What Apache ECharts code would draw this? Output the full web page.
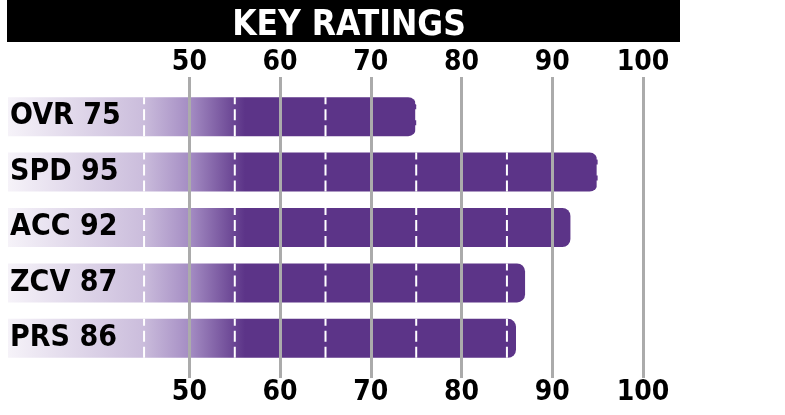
<!DOCTYPE html>
<html>
<head>
<meta charset="utf-8">
<script src="https://cdn.jsdelivr.net/npm/echarts@6/dist/echarts.min.js"></script>
<style>
  html, body { margin: 0; padding: 0; background: #fff; }
  #main { width: 785px; height: 415px; }
</style>
</head>
<body>
<div id="main"></div>
<script>
// key ratings data
var categories = ['OVR', 'SPD', 'ACC', 'ZCV', 'PRS'];
var ratings = [75, 95, 92, 87, 86];
var tickLabels = [50, 60, 70, 80, 90, 100];
var minorTicks = [45, 55, 65, 75, 85, 95];

var FONT = "'Liberation Sans Narrow', 'DejaVu Sans Condensed', sans-serif";
var PURPLE = '#5c3488';

// dashes only inside each bar
var dashData = [];
for (var i = 0; i < categories.length; i++) {
	dashData.push([ratings[i], i]);
}

function renderDashes(params, api) {
	var val = api.value(0);
	var idx = api.value(1);
	var children = [];
	for (var k = 0; k < minorTicks.length; k++) {
		if (minorTicks[k] > val) continue;
		var p = api.coord([minorTicks[k], idx]);
		children.push({
			type: 'line',
			shape: { x1: p[0], y1: p[1] - 19.5, x2: p[0], y2: p[1] + 19.5 },
			style: { stroke: '#fff', lineWidth: 2, lineDash: [11, 5], lineDashOffset: 4 }
		});
	}
	return { type: 'group', children: children };
}

var myChart = echarts.init(document.getElementById('main'));

var option = {
	animation: false,
	title: {
		text: 'KEY RATINGS',
		left: 344,
		top: 3,
		textAlign: 'center',
		textStyle: { color: '#fff', fontSize: 35, fontWeight: 'bold', fontFamily: FONT }
	},
	graphic: [
		{
			type: 'rect',
			left: 7, top: 0, z: -1,
			shape: { width: 673, height: 42 },
			style: { fill: '#000' }
		}
	],
	grid: [
		{ left: 8, right: 142, top: 89, bottom: 49 },
		{ left: 189.4, right: 142, top: 77, bottom: 37 }
	],
	xAxis: [
		{ type: 'value', gridIndex: 0, min: 30, max: 100, show: false },
		{
			type: 'value', gridIndex: 1, min: 50, max: 100, interval: 10,
			position: 'top', z: 5,
			axisLine: { show: false }, axisTick: { show: false },
			axisLabel: { color: '#000', fontSize: 28, fontWeight: 'bold', fontFamily: FONT, margin: 0,
				formatter: function (v) { return tickLabels.indexOf(v) >= 0 ? v : ''; } },
			splitLine: { show: true, lineStyle: { color: '#ababab', width: 3 } }
		},
		{
			type: 'value', gridIndex: 1, min: 50, max: 100, interval: 10,
			position: 'bottom',
			axisLine: { show: false }, axisTick: { show: false },
			axisLabel: { color: '#000', fontSize: 28, fontWeight: 'bold', fontFamily: FONT, margin: 1,
				formatter: function (v) { return tickLabels.indexOf(v) >= 0 ? v : ''; } },
			splitLine: { show: false }
		}
	],
	yAxis: [
		{ type: 'category', gridIndex: 0, data: categories, inverse: true, show: false },
		{ type: 'value', gridIndex: 1, show: false }
	],
	series: [
		{
			name: 'rating',
			type: 'bar',
			xAxisIndex: 0, yAxisIndex: 0,
			data: ratings,
			barWidth: 39,
			itemStyle: {
				borderRadius: [0, 8, 8, 0],
				color: {
					type: 'linear', global: true,
					x: 7, y: 0, x2: 245, y2: 0,
					colorStops: [
						{ offset: 0, color: '#f6f3f9' },
						{ offset: 0.57, color: '#cbbddc' },
						{ offset: 0.77, color: '#a48cc3' },
						{ offset: 1, color: PURPLE }
					]
				}
			},
			label: {
				show: true, position: 'insideLeft', distance: 2,
				color: '#000', fontSize: 30, fontWeight: 'bold', fontFamily: FONT,
				formatter: function (p) { return p.name + ' ' + p.value; }
			}
		},
		{
			name: 'dashes',
			type: 'custom',
			xAxisIndex: 0, yAxisIndex: 0,
			z: 3,
			silent: true,
			data: dashData,
			renderItem: renderDashes
		}
	]
};

myChart.setOption(option);
</script>
</body>
</html>
